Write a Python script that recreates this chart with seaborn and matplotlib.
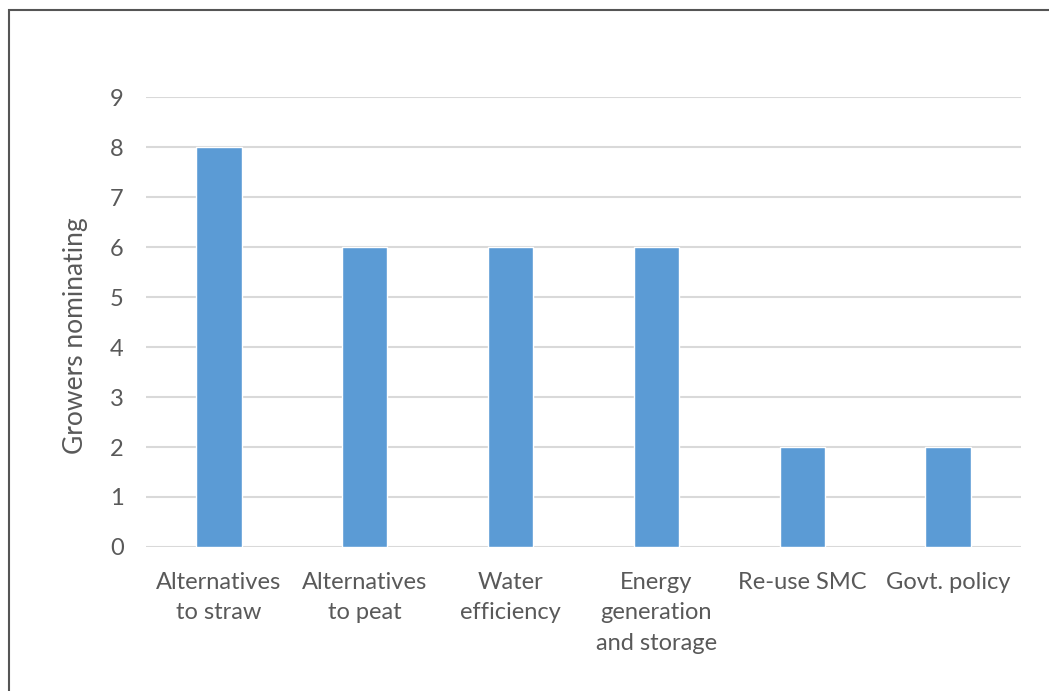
import matplotlib
matplotlib.use("Agg")
import matplotlib.pyplot as plt
import seaborn as sns
import pandas as pd
from matplotlib.patches import Rectangle

categories = [
    "Alternatives\nto straw",
    "Alternatives\nto peat",
    "Water\nefficiency",
    "Energy\ngeneration\nand storage",
    "Re-use SMC",
    "Govt. policy",
]
growers = [8, 6, 6, 6, 2, 2]
y_ticks = list(range(0, 10))

sns.set_theme(style="white")
plt.rcParams["font.family"] = ["Lato", "DejaVu Sans"]

text_color = "#595959"
bar_color = "#5B9BD5"
grid_color = "#D9D9D9"

df = pd.DataFrame({"category": categories, "growers": growers})

fig = plt.figure(figsize=(10.49, 6.91), dpi=100)
ax = fig.add_axes([0.1392, 0.2084, 0.8341, 0.6512])

sns.barplot(data=df, x="category", y="growers", color=bar_color,
            saturation=1, width=0.31, ax=ax, zorder=3)

ax.set_ylim(0, 9)
ax.set_yticks(y_ticks)
ax.set_xlim(-0.5, len(categories) - 0.5)
ax.yaxis.grid(True, color=grid_color, linewidth=1.5, zorder=0)
ax.xaxis.grid(False)
for s in ax.spines.values():
    s.set_visible(False)

ax.tick_params(axis="both", length=0, labelsize=17, colors=text_color)
ax.tick_params(axis="y", pad=16)
ax.tick_params(axis="x", pad=18)
for lbl in ax.get_xticklabels():
    lbl.set_linespacing(1.55)

ax.set_xlabel("")
ax.set_ylabel("Growers nominating", fontsize=19, color=text_color)
ax.yaxis.set_label_coords(-0.066, 0.469)

# outer frame of the chart area
fig.patches.append(Rectangle((9 / 1049, -0.05), 1.2, 1 - 10 / 691 + 0.05,
                             transform=fig.transFigure, fill=False,
                             edgecolor="#555555", linewidth=1.5))

fig.savefig("out.png", dpi=100)
